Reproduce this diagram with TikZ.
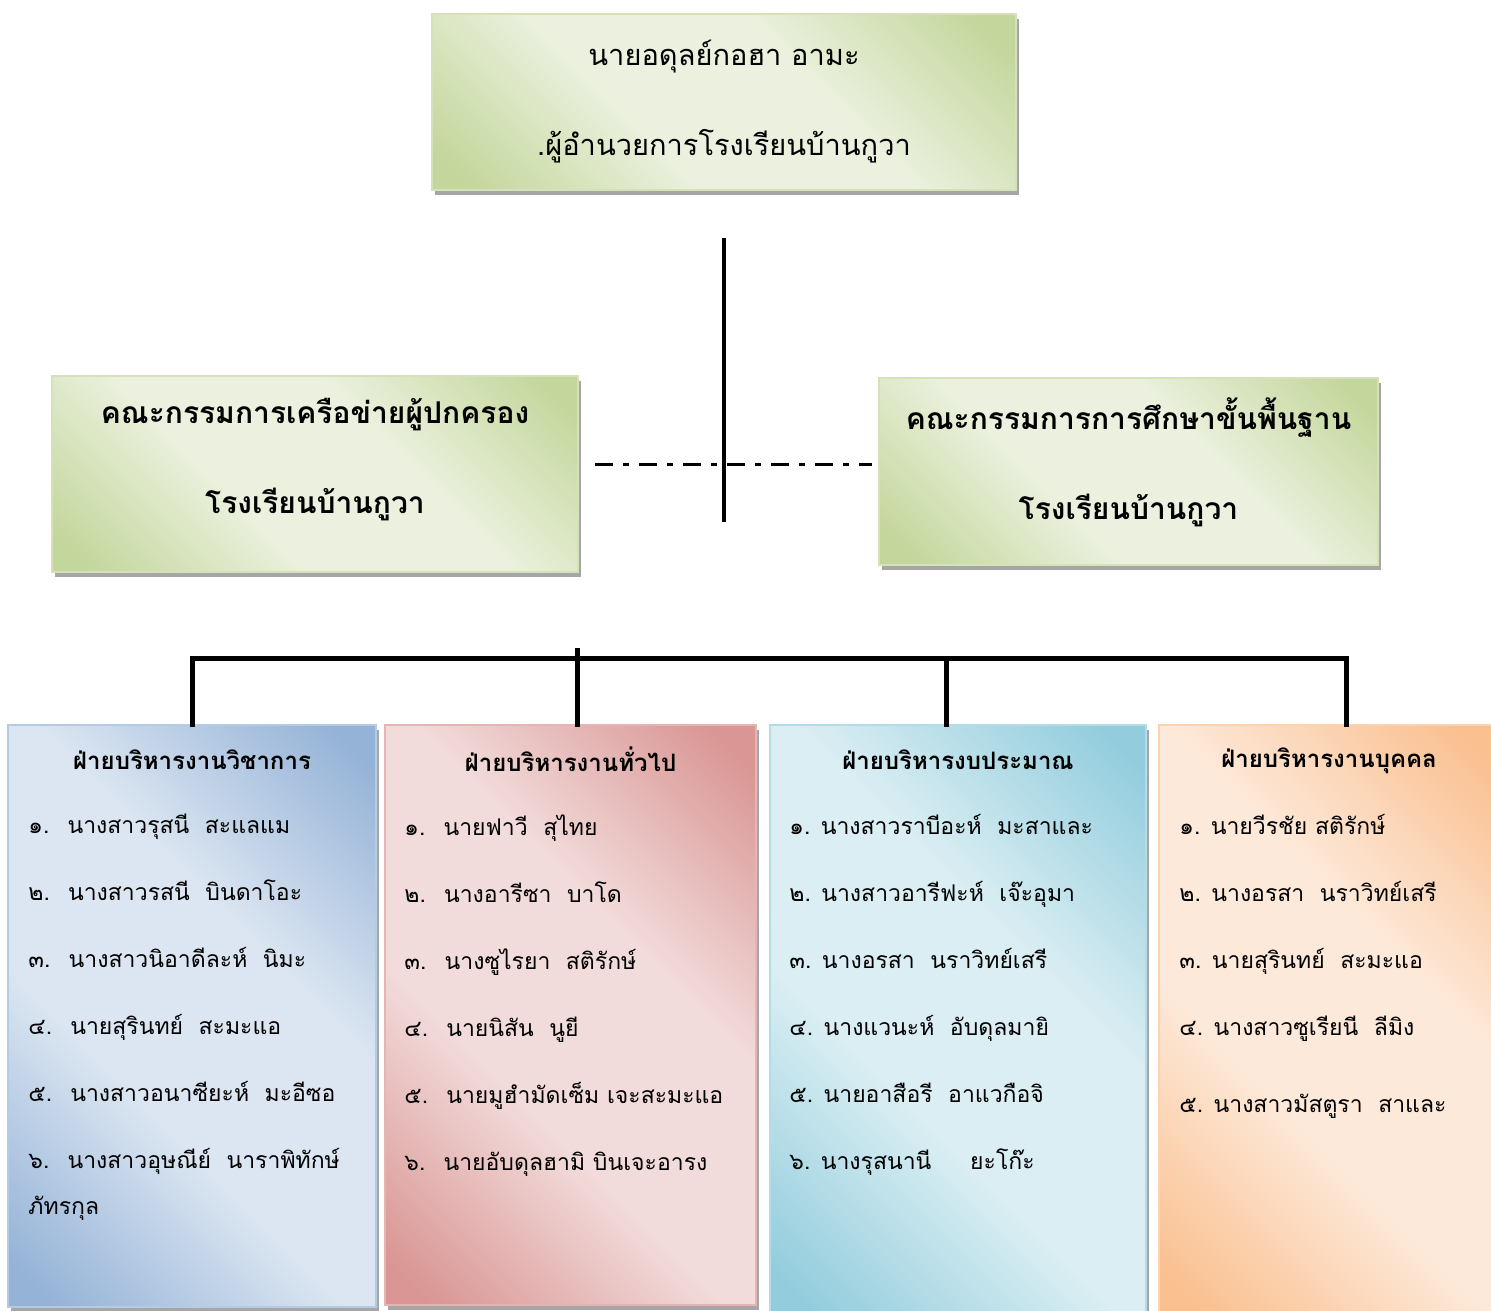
\documentclass[tikz,border=0pt]{standalone}
\usepackage{fontspec}
\setmainfont[Script=Thai]{Loma}
\usetikzlibrary{shadows,positioning}

\definecolor{greendark}{HTML}{C3D69B}
\definecolor{greenlight}{HTML}{EBF1DE}
\definecolor{bluedark}{HTML}{95B3D7}
\definecolor{bluelight}{HTML}{DCE6F2}
\definecolor{reddark}{HTML}{D99694}
\definecolor{redlight}{HTML}{F2DCDB}
\definecolor{tealdark}{HTML}{93CDDD}
\definecolor{teallight}{HTML}{DAEEF3}
\definecolor{orangedark}{HTML}{FAC090}
\definecolor{orangelight}{HTML}{FDE9D9}

% diagonal fades, dark corners and a light band
\pgfdeclarehorizontalshading{greenfade}{100bp}{color(0bp)=(greendark); color(18bp)=(greendark); color(40bp)=(greenlight); color(60bp)=(greenlight); color(82bp)=(greendark); color(100bp)=(greendark)}
\pgfdeclarehorizontalshading{bluefade}{100bp}{color(0bp)=(bluedark); color(18bp)=(bluedark); color(40bp)=(bluelight); color(60bp)=(bluelight); color(82bp)=(bluedark); color(100bp)=(bluedark)}
\pgfdeclarehorizontalshading{redfade}{100bp}{color(0bp)=(reddark); color(18bp)=(reddark); color(40bp)=(redlight); color(60bp)=(redlight); color(82bp)=(reddark); color(100bp)=(reddark)}
\pgfdeclarehorizontalshading{tealfade}{100bp}{color(0bp)=(tealdark); color(18bp)=(tealdark); color(40bp)=(teallight); color(60bp)=(teallight); color(82bp)=(tealdark); color(100bp)=(tealdark)}
\pgfdeclarehorizontalshading{orangefade}{100bp}{color(0bp)=(orangedark); color(18bp)=(orangedark); color(40bp)=(orangelight); color(60bp)=(orangelight); color(82bp)=(orangedark); color(100bp)=(orangedark)}

\begin{document}
\begin{tikzpicture}[x=1pt, y=-1pt,
		basic/.style   = {draw, rectangle, line width=1.5pt, inner sep=0pt, shading angle=45,
			drop shadow={shadow xshift=3pt, shadow yshift=-5pt, fill=black!35, opacity=1}},
		head/.style    = {basic, draw=greendark!70!white, shading=greenfade},
		headtext/.style  = {font=\fontsize{29}{90}\selectfont, align=center},
		councilname/.style = {font=\bfseries\fontsize{30}{90}\selectfont, align=center},
		dept/.style    = {basic},
		depthead/.style  = {font=\bfseries\fontsize{24}{30}\selectfont},
		stafflist/.style = {font=\fontsize{23}{46}\selectfont, align=left, anchor=north west, inner sep=0pt},
		spine/.style   = {line width=4pt},
		link/.style    = {line width=3pt, dash pattern=on 18pt off 10pt on 6pt off 10pt},
		bracket/.style = {line width=5pt, line cap=rect}]
		
		\useasboundingbox (0,0) rectangle (1491,1311);
		
		% director at the top
		\node[head, minimum width=584pt, minimum height=176pt, headtext] (director) at (724,102)
		{นายอดุลย์กอฮา อามะ\\.ผู้อำนวยการโรงเรียนบ้านกูวา};
		
		% the two councils
		\node[head, minimum width=526pt, minimum height=196pt] (parents) at (315,474) {};
		\node[head, minimum width=499pt, minimum height=187pt] (board) at (1128.5,471.5) {};
		\node[councilname] (parentsname) at ([yshift=14pt]parents.center) {คณะกรรมการเครือข่ายผู้ปกครอง\\โรงเรียนบ้านกูวา};
		\node[councilname] (boardname) at ([yshift=9.5pt]board.center) {คณะกรรมการการศึกษาขั้นพื้นฐาน\\โรงเรียนบ้านกูวา};
		
		% the four departments
		\node[dept, draw=bluedark!70!white, shading=bluefade, minimum width=368pt, minimum height=582pt] (academic) at (192,1016) {};
		\node[dept, draw=reddark!70!white, shading=redfade, minimum width=371pt, minimum height=580pt] (general) at (570.5,1015) {};
		\node[dept, draw=tealdark!70!white, shading=tealfade, minimum width=376pt, minimum height=590pt] (budget) at (958,1020) {};
		\node[dept, draw=orangedark!70!white, shading=orangefade, minimum width=340pt, minimum height=590pt] (personnel) at (1329,1020) {};
		
		\node[depthead] (academichead) at ([yshift=-35pt]academic.north) {ฝ่ายบริหารงานวิชาการ};
		\node[depthead] (generalhead) at ([yshift=-35pt]general.north) {ฝ่ายบริหารงานทั่วไป};
		\node[depthead] (budgethead) at ([yshift=-35pt]budget.north) {ฝ่ายบริหารงบประมาณ};
		\node[depthead] (personnelhead) at ([yshift=-37pt]personnel.north) {ฝ่ายบริหารงานบุคคล};
		
		% staff of each department
		\node[stafflist] (academicstaff) at ([xshift=21pt, yshift=-90pt]academic.north west)
		{๑.~ นางสาวรุสนี~ สะแลแม\\[21pt]
			๒.~ นางสาวรสนี~ บินดาโอะ\\[21pt]
			๓.~ นางสาวนิอาดีละห์~ นิมะ\\[21pt]
			๔.~ นายสุรินทย์~ สะมะแอ\\[21pt]
			๕.~ นางสาวอนาซียะห์~ มะอีซอ\\[21pt]
			๖.~ นางสาวอุษณีย์~ นาราพิทักษ์\\
			ภัทรกุล};
		\node[stafflist] (generalstaff) at ([xshift=20pt, yshift=-90pt]general.north west)
		{๑.~ นายฟาวี~ สุไทย\\[21pt]
			๒.~ นางอารีซา~ บาโด\\[21pt]
			๓.~ นางซูไรยา~ สติรักษ์\\[21pt]
			๔.~ นายนิสัน~ นูยี\\[21pt]
			๕.~ นายมูฮำมัดเซ็ม เจะสะมะแอ\\[21pt]
			๖.~ นายอับดุลฮามิ บินเจะอารง};
		\node[stafflist] (budgetstaff) at ([xshift=20pt, yshift=-90pt]budget.north west)
		{๑. นางสาวราบีอะห์~ มะสาและ\\[21pt]
			๒. นางสาวอารีฟะห์~ เจ๊ะอุมา\\[21pt]
			๓. นางอรสา~ นราวิทย์เสรี\\[21pt]
			๔. นางแวนะห์~ อับดุลมายิ\\[21pt]
			๕. นายอาสือรี~ อาแวกือจิ\\[21pt]
			๖. นางรุสนานี~~~~ ยะโก๊ะ};
		\node[stafflist] (personnelstaff) at ([xshift=21pt, yshift=-90pt]personnel.north west)
		{๑. นายวีรชัย สติรักษ์\\[21pt]
			๒. นางอรสา~ นราวิทย์เสรี\\[21pt]
			๓. นายสุรินทย์~ สะมะแอ\\[21pt]
			๔. นางสาวซูเรียนี~ ลีมิง\\[31pt]
			๕. นางสาวมัสตูรา~ สาและ};
		
		% lines between the levels
		\coordinate (spinetop) at (724,238);
		\coordinate (spinefoot) at (724,522);
		\coordinate (bus) at (0,658);
		\draw[spine] (spinetop) -- (spinefoot);
		\draw[link] ([xshift=16pt, yshift=10pt]parents.east) -- ([xshift=-6pt, yshift=10pt]parents.east -| board.west);
		
		\draw[bracket] (academic.north) -- (academic.north |- bus) -- ([xshift=17pt]personnel.north |- bus) -- ([xshift=17pt]personnel.north);
		\draw[bracket] ([xshift=6.5pt]general.north) -- ++(0,-74);
		\draw[bracket] ([xshift=-12pt]budget.north) -- ([xshift=-12pt]budget.north |- bus);
		
	\end{tikzpicture}
\end{document}
